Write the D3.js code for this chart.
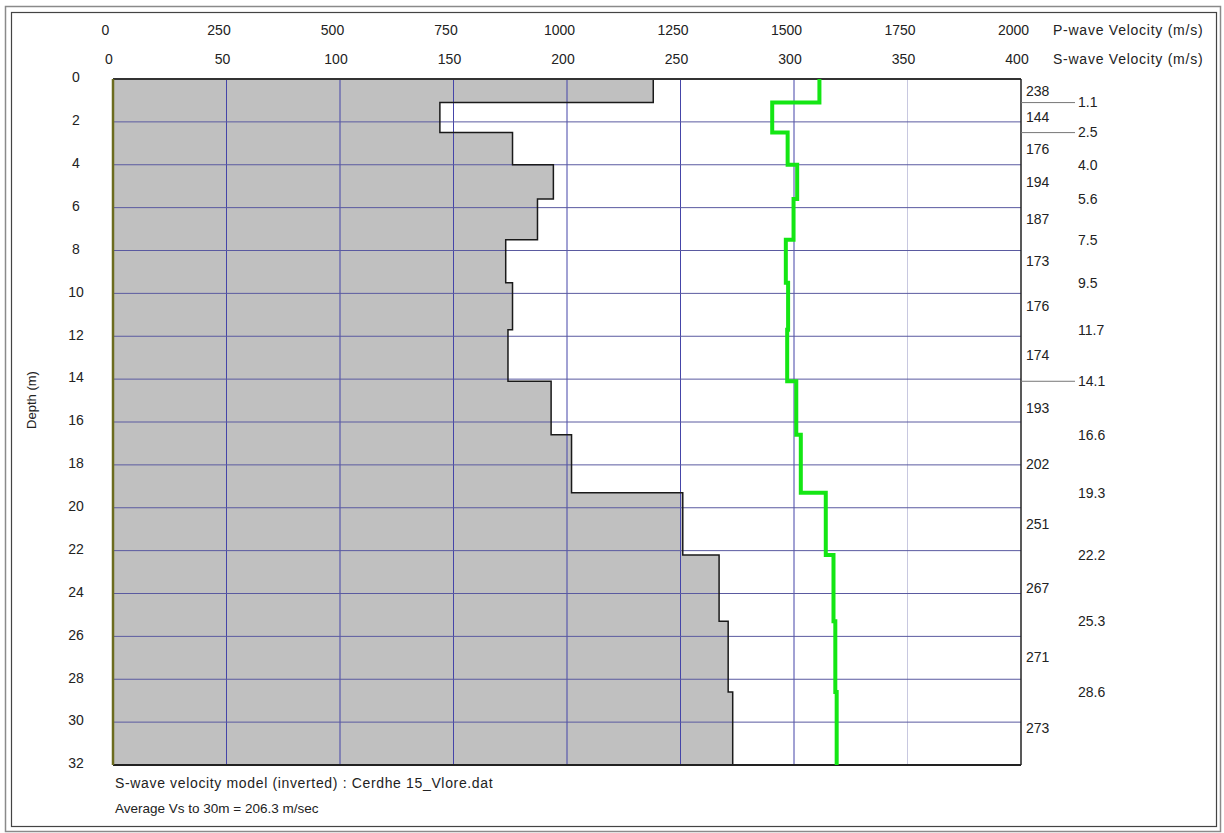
<!DOCTYPE html>
<html lang="en">
<head>
    <meta charset="UTF-8">
    <title>S-wave velocity model</title>
    <style>
        body {
            margin: 0;
            padding: 0;
            background: #fff;
            font-family: Arial, "Liberation Sans", sans-serif;
        }
        #chart text {
            font-family: Arial, "Liberation Sans", sans-serif;
            fill: #222;
        }
    </style>
</head>
<body>
    <div id="chart"></div>
    <script src="https://d3js.org/d3.v7.min.js"></script>
    <script>
        // Layer model: boundaries (m), S-wave and P-wave velocities per layer
        const layerTops = [0, 1.1, 2.5, 4.0, 5.6, 7.5, 9.5, 11.7, 14.1, 16.6, 19.3, 22.2, 25.3, 28.6];
        const layerBottoms = [1.1, 2.5, 4.0, 5.6, 7.5, 9.5, 11.7, 14.1, 16.6, 19.3, 22.2, 25.3, 28.6, 32];
        const vsValues = [238, 144, 176, 194, 187, 173, 176, 174, 193, 202, 251, 267, 271, 273];
        const vpValues = [1556, 1452, 1486, 1507, 1499, 1482, 1487, 1485, 1505, 1515, 1570, 1587, 1591, 1594];
        const boundaryLabels = ['1.1', '2.5', '4.0', '5.6', '7.5', '9.5', '11.7', '14.1', '16.6', '19.3', '22.2', '25.3', '28.6'];
        const leaderBoundaries = [1.1, 2.5, 14.1];

        const pTicks = [0, 250, 500, 750, 1000, 1250, 1500, 1750, 2000];
        const sTicks = [0, 50, 100, 150, 200, 250, 300, 350, 400];
        const depthTicks = [0, 2, 4, 6, 8, 10, 12, 14, 16, 18, 20, 22, 24, 26, 28, 30, 32];

        const width = 1224, height = 833;
        const plot = { left: 113, right: 1021, top: 79, bottom: 765 };
        const fs = 14;

        const svg = d3.select('#chart').append('svg')
            .attr('width', width)
            .attr('height', height);

        // outer double frame
        svg.append('rect')
            .attr('x', 5.5).attr('y', 6.5)
            .attr('width', 1215).attr('height', 825)
            .attr('fill', 'none').attr('stroke', '#8a8a8a').attr('stroke-width', 1.5);
        svg.append('rect')
            .attr('x', 11.5).attr('y', 12.5)
            .attr('width', 1205).attr('height', 814)
            .attr('fill', 'none').attr('stroke', '#444').attr('stroke-width', 1.2);

        const xS = d3.scaleLinear().domain([0, 400]).range([plot.left, plot.right]);
        const xP = d3.scaleLinear().domain([0, 2000]).range([plot.left, plot.right]);
        const y = d3.scaleLinear().domain([0, 32]).range([plot.top, plot.bottom]);

        // step profile points: two per layer
        const profile = [];
        layerTops.forEach((top, i) => {
            profile.push({ depth: top, vs: vsValues[i], vp: vpValues[i] });
            profile.push({ depth: layerBottoms[i], vs: vsValues[i], vp: vpValues[i] });
        });

        // grey S-wave fill
        svg.append('path')
            .datum(profile)
            .attr('fill', '#c0c0c0')
            .attr('d', d3.area()
                .y(d => y(d.depth))
                .x0(xS(0))
                .x1(d => xS(d.vs)));

        // grid lines
        svg.append('g')
            .selectAll('line')
            .data(sTicks.slice(1, -1))
            .join('line')
            .attr('x1', d => xS(d)).attr('x2', d => xS(d))
            .attr('y1', plot.top).attr('y2', plot.bottom)
            .attr('stroke', d => d === 350 ? '#c8c8e0' : '#4545a8')
            .attr('stroke-width', 1);

        svg.append('g')
            .selectAll('line')
            .data(depthTicks.slice(1, -1))
            .join('line')
            .attr('x1', plot.left).attr('x2', plot.right)
            .attr('y1', d => y(d)).attr('y2', d => y(d))
            .attr('stroke', '#5a5aa0')
            .attr('stroke-width', 1);

        // S-wave profile outline
        svg.append('path')
            .datum(profile)
            .attr('fill', 'none')
            .attr('stroke', '#1a1a1a')
            .attr('stroke-width', 1.5)
            .attr('d', d3.line().x(d => xS(d.vs)).y(d => y(d.depth)));

        // plot frame
        svg.append('line')
            .attr('x1', plot.left).attr('x2', plot.right)
            .attr('y1', plot.top).attr('y2', plot.top)
            .attr('stroke', '#333').attr('stroke-width', 2);
        svg.append('line')
            .attr('x1', plot.left).attr('x2', plot.right)
            .attr('y1', plot.bottom).attr('y2', plot.bottom)
            .attr('stroke', '#222').attr('stroke-width', 2);
        svg.append('line')
            .attr('x1', plot.right).attr('x2', plot.right)
            .attr('y1', plot.top).attr('y2', plot.bottom)
            .attr('stroke', '#222').attr('stroke-width', 1.5);
        svg.append('line')
            .attr('x1', plot.left).attr('x2', plot.left)
            .attr('y1', plot.top).attr('y2', plot.bottom)
            .attr('stroke', '#6b6b1e').attr('stroke-width', 2.5);

        // P-wave profile (green)
        svg.append('path')
            .datum(profile)
            .attr('fill', 'none')
            .attr('stroke', '#14e614')
            .attr('stroke-width', 4)
            .attr('d', d3.line().x(d => xP(d.vp)).y(d => y(d.depth)));

        // top axes
        const pAxis = svg.append('g')
            .attr('transform', 'translate(0,35)')
            .call(d3.axisTop(xP).tickValues(pTicks).tickSize(0).tickPadding(0).tickFormat(d3.format('d')));
        const sAxis = svg.append('g')
            .attr('transform', 'translate(0,64)')
            .call(d3.axisTop(xS).tickValues(sTicks).tickSize(0).tickPadding(0).tickFormat(d3.format('d')));
        const yAxis = svg.append('g')
            .attr('transform', `translate(${plot.left},0)`)
            .call(d3.axisLeft(y).tickValues(depthTicks).tickSize(0));
        [pAxis, sAxis, yAxis].forEach(a => {
            a.select('.domain').remove();
            a.attr('font-size', fs).attr('font-family', 'Arial, "Liberation Sans", sans-serif');
            a.selectAll('text').attr('fill', '#222');
        });
        pAxis.selectAll('text').attr('dx', -8);
        sAxis.selectAll('text').attr('dx', -4.5);
        yAxis.selectAll('text')
            .attr('x', -37)
            .attr('dy', '0.2em')
            .attr('text-anchor', 'middle');

        svg.append('text')
            .attr('x', 1053).attr('y', 35)
            .attr('font-size', fs)
            .attr('letter-spacing', 0.75)
            .text('P-wave Velocity (m/s)');
        svg.append('text')
            .attr('x', 1053).attr('y', 64)
            .attr('font-size', fs)
            .attr('letter-spacing', 0.75)
            .text('S-wave Velocity (m/s)');

        svg.append('text')
            .attr('transform', 'translate(36,400) rotate(-90)')
            .attr('text-anchor', 'middle')
            .attr('font-size', 13)
            .text('Depth (m)');

        // right side: Vs labels at layer mid-depth
        svg.append('g')
            .selectAll('text')
            .data(vsValues)
            .join('text')
            .attr('x', plot.right + 5)
            .attr('y', (d, i) => y((layerTops[i] + layerBottoms[i]) / 2))
            .attr('dy', '0.35em')
            .attr('font-size', fs)
            .text(d => d);

        // boundary depth labels
        const boundaries = layerBottoms.slice(0, -1);
        svg.append('g')
            .selectAll('line')
            .data(boundaries.filter(b => leaderBoundaries.includes(b)))
            .join('line')
            .attr('x1', plot.right).attr('x2', plot.right + 54)
            .attr('y1', d => y(d)).attr('y2', d => y(d))
            .attr('stroke', '#777').attr('stroke-width', 1);
        svg.append('g')
            .selectAll('text')
            .data(boundaries)
            .join('text')
            .attr('x', plot.right + 57)
            .attr('y', d => y(d))
            .attr('dy', '0.35em')
            .attr('font-size', fs)
            .text((d, i) => boundaryLabels[i]);

        // footer notes
        svg.append('text')
            .attr('x', 115).attr('y', 788)
            .attr('font-size', fs)
            .attr('letter-spacing', 0.65)
            .text('S-wave velocity model (inverted) : Cerdhe 15_Vlore.dat');
        svg.append('text')
            .attr('x', 115).attr('y', 813)
            .attr('font-size', 13.5)
            .text('Average Vs to 30m = 206.3 m/sec');
    </script>
</body>
</html>
